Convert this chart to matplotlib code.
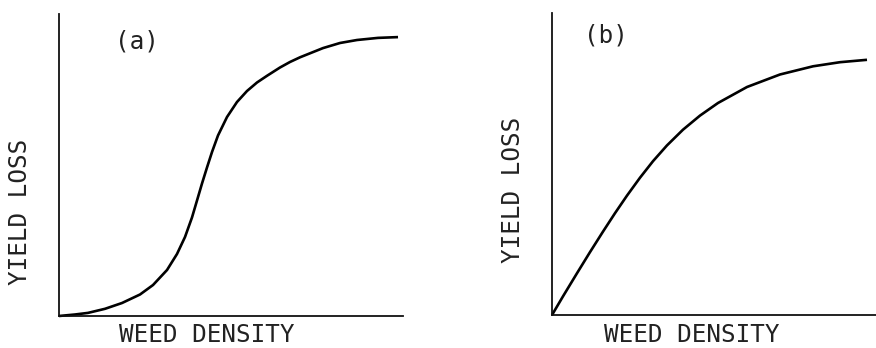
import numpy as np
import matplotlib
matplotlib.use("Agg")
import matplotlib.pyplot as plt

# values, weed density and yield loss on a 0-100 scale
density_a = [0, 4.65, 8.43, 13.37, 18.31, 23.55, 27.33, 31.40, 34.30, 36.63,
             38.66, 40.12, 41.57, 43.02, 44.48, 46.22, 48.84, 51.74, 54.65,
             57.56, 60.47, 64.24, 67.15, 70.06, 76.74, 81.69, 86.63, 92.73,
             98.55]
loss_a = [0, 0.50, 1.03, 2.38, 4.30, 7.12, 10.26, 15.23, 20.53, 26.16,
          32.62, 38.25, 43.87, 49.17, 54.30, 59.77, 65.89, 70.86, 74.50,
          77.32, 79.54, 82.28, 84.11, 85.66, 88.71, 90.40, 91.39, 92.09,
          92.35]

density_b = [0, 3.40, 7.72, 11.73, 15.74, 19.44, 23.15, 27.16, 31.17, 35.49,
             40.43, 45.68, 51.23, 60.19, 70.37, 80.56, 88.89, 97.22]
loss_b = [0, 6.19, 13.84, 20.83, 27.62, 33.71, 39.54, 45.46, 50.93, 56.16,
          61.36, 66.03, 70.20, 75.50, 79.64, 82.35, 83.71, 84.50]

panel_labels = ["(a)", "(b)"]
xlabel = "WEED DENSITY"
ylabel = "YIELD LOSS"

W, H = 876, 348
fig = plt.figure(figsize=(W / 100, H / 100), dpi=100)
font = dict(family="DejaVu Sans Mono", fontsize=17.5, color="#222222")


def make_axes(x0, y0, w, h):
    ax = fig.add_axes([x0 / W, (H - y0 - h) / H, w / W, h / H])
    ax.set_xlim(0, 100)
    ax.set_ylim(0, 100)
    for side in ["top", "right"]:
        ax.spines[side].set_visible(False)
    for side in ["left", "bottom"]:
        ax.spines[side].set_linewidth(1.3)
        ax.spines[side].set_color("#111111")
    ax.set_xticks([])
    ax.set_yticks([])
    ax.patch.set_alpha(0)
    return ax


ax1 = make_axes(59, 14, 344, 302)
ax1.plot(density_a, loss_a, color="black", lw=1.9, clip_on=False,
         solid_capstyle="butt", solid_joinstyle="round")
ax2 = make_axes(552, 13, 324, 302)
ax2.plot(density_b, loss_b, color="black", lw=1.9, clip_on=False,
         solid_capstyle="butt", solid_joinstyle="round")

# panel letters and axis titles
fig.text(137 / W, 1 - 42 / H, panel_labels[0], ha="center", va="center", **font)
fig.text(606 / W, 1 - 36 / H, panel_labels[1], ha="center", va="center", **font)
fig.text(207 / W, 1 - 342.5 / H, xlabel, ha="center", va="baseline", **font)
fig.text(692 / W, 1 - 342.5 / H, xlabel, ha="center", va="baseline", **font)
fig.text(20 / W, 1 - 212 / H, ylabel, ha="center", va="center",
         rotation=90, **font)
fig.text(513 / W, 1 - 190 / H, ylabel, ha="center", va="center",
         rotation=90, **font)

plt.savefig("out.png", dpi=100)
